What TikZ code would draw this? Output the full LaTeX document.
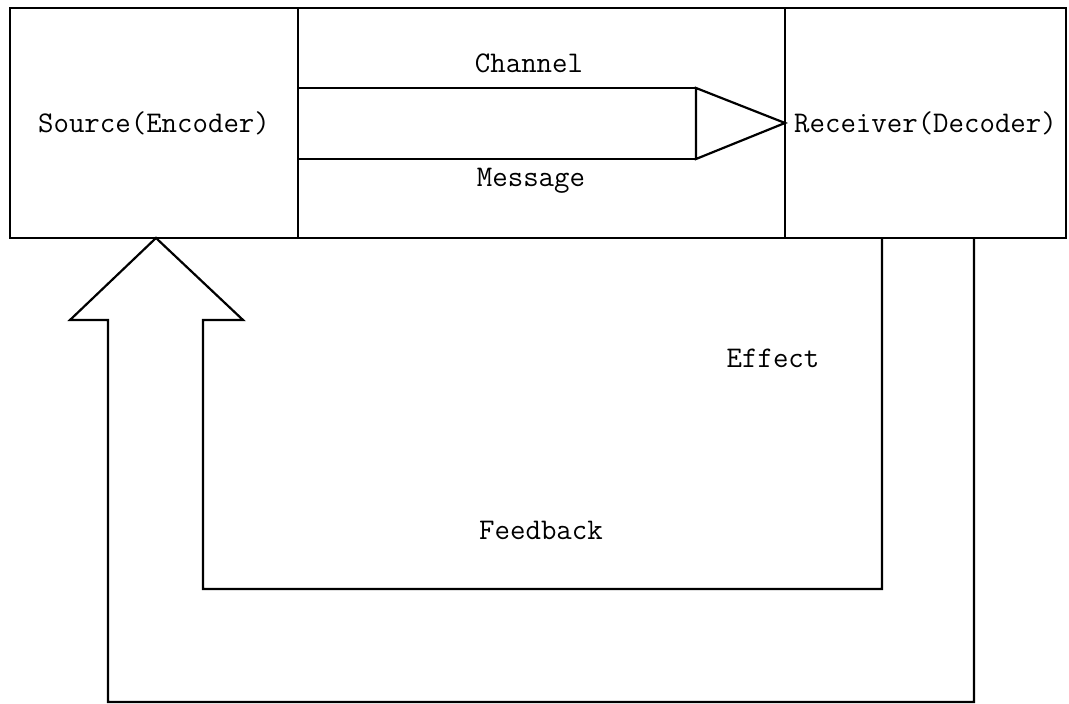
\documentclass[tikz,border=0pt]{standalone}
\usetikzlibrary{positioning}
\tikzstyle{cell}=[rectangle,draw,line width=0.7pt,inner sep=0pt,outer sep=0pt,minimum height=115pt,font=\fontsize{15}{18}\selectfont\ttfamily]
\tikzstyle{lbl}=[inner sep=0pt,font=\fontsize{15}{18}\selectfont\ttfamily]
\tikzstyle{blk}=[line width=1.1pt,line join=miter]

\begin{document}
\begin{tikzpicture}[x=0.5pt,y=-0.5pt]
\useasboundingbox (0,0) rectangle (1069,704);
% three cells of the top band
\node[cell,minimum width=144pt] (src) at (154,123) {Source(Encoder)};
\node[cell,minimum width=243.5pt,right=0pt of src] (chan) {};
\node[cell,minimum width=140.5pt,right=0pt of chan] (recv) {Receiver(Decoder)};
% message arrow
\coordinate (mtop) at (chan.west |- 0,88);
\coordinate (mbot) at (chan.west |- 0,159);
\coordinate (htop) at (696,88);
\coordinate (hbot) at (696,159);
\draw[blk] (mtop) -- (htop);
\draw[blk] (mbot) -- (hbot);
\draw[blk] (htop) -- (recv.west) -- (hbot) -- cycle;
\node[lbl] (chanlbl) at (529,63) {Channel};
\node[lbl] (msglbl) at (531,181) {Message};
% feedback arrow
\coordinate (fin) at (882,238);
\coordinate (fout) at (974,238);
\draw[blk] (fin) -- (882,589) -- (203,589) -- (203,320) -- (243,320)
  -- (src.south -| 156,0) -- (70,320) -- (108,320) -- (108,702) -- (974,702) -- (fout);
\node[lbl] (efflbl) at (773,358) {Effect};
\node[lbl] (fblbl) at (541,530) {Feedback};
\end{tikzpicture}
\end{document}
